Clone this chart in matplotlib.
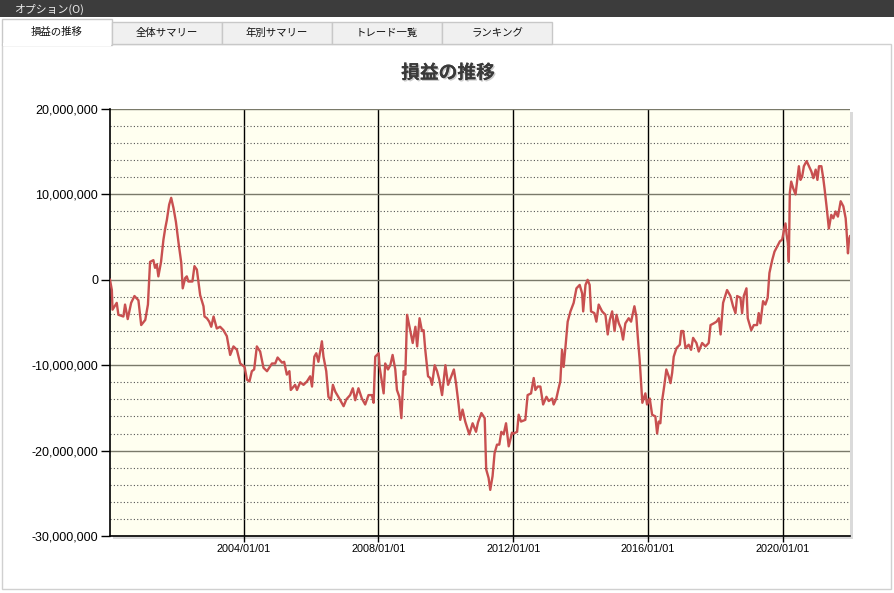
import matplotlib
matplotlib.use("Agg")
import matplotlib.pyplot as plt
import matplotlib.dates as mdates
import matplotlib.ticker as mticker
import matplotlib.patheffects as pe
from matplotlib.patches import Rectangle
import numpy as np
import pandas as pd

plt.rcParams['font.family'] = ['Liberation Sans', 'Noto Sans CJK JP', 'DejaVu Sans']
JP = ['Noto Sans CJK JP', 'DejaVu Sans']

W, H = 894, 593

# 損益の推移 (日付, 損益[百万円])
dates = [
    "2000-01-14", "2000-02-03", "2000-02-10", "2000-03-27", "2000-04-14", "2000-06-07",
    "2000-06-25", "2000-07-24", "2000-08-30", "2000-10-05", "2000-11-17", "2000-12-17",
    "2001-01-30", "2001-02-28", "2001-03-23", "2001-04-28", "2001-05-16", "2001-06-04",
    "2001-06-21", "2001-07-20", "2001-08-15", "2001-09-03", "2001-09-21", "2001-10-16",
    "2001-11-07", "2001-12-02", "2001-12-28", "2002-01-26", "2002-02-24", "2002-03-12",
    "2002-04-07", "2002-04-25", "2002-05-12", "2002-06-25", "2002-07-17", "2002-08-12",
    "2002-09-17", "2002-10-23", "2002-11-03", "2002-11-29", "2002-12-24", "2003-01-15",
    "2003-02-09", "2003-03-16", "2003-04-21", "2003-05-27", "2003-07-03", "2003-08-08",
    "2003-09-13", "2003-10-20", "2003-11-25", "2004-01-11", "2004-02-06", "2004-03-04",
    "2004-03-30", "2004-04-24", "2004-05-23", "2004-06-28", "2004-08-03", "2004-09-10",
    "2004-11-03", "2004-12-08", "2005-01-03", "2005-02-20", "2005-03-15", "2005-04-13",
    "2005-05-11", "2005-05-26", "2005-07-12", "2005-08-01", "2005-09-05", "2005-10-11",
    "2005-11-17", "2005-12-22", "2006-01-11", "2006-02-05", "2006-02-26", "2006-03-21",
    "2006-04-28", "2006-05-15", "2006-06-14", "2006-07-08", "2006-08-04", "2006-08-25",
    "2006-09-20", "2006-11-13", "2006-12-19", "2007-01-18", "2007-02-28", "2007-03-29",
    "2007-04-24", "2007-05-29", "2007-07-05", "2007-08-10", "2007-09-15", "2007-10-22",
    "2007-11-09", "2007-11-27", "2008-01-03", "2008-01-13", "2008-02-26", "2008-03-14",
    "2008-04-13", "2008-05-08", "2008-06-02", "2008-07-01", "2008-07-19", "2008-08-14",
    "2008-09-05", "2008-09-30", "2008-10-18", "2008-11-06", "2008-12-11", "2009-01-06",
    "2009-02-04", "2009-02-23", "2009-03-21", "2009-04-16", "2009-05-04", "2009-05-22",
    "2009-06-21", "2009-07-15", "2009-08-03", "2009-09-01", "2009-09-27", "2009-10-21",
    "2009-11-20", "2009-12-26", "2010-01-24", "2010-02-28", "2010-03-28", "2010-04-20",
    "2010-05-18", "2010-06-05", "2010-06-30", "2010-07-29", "2010-09-11", "2010-10-17",
    "2010-11-23", "2010-12-14", "2011-01-20", "2011-02-25", "2011-03-13", "2011-04-08",
    "2011-04-26", "2011-05-21", "2011-06-12", "2011-07-08", "2011-08-02", "2011-08-24",
    "2011-09-18", "2011-10-14", "2011-11-12", "2011-12-18", "2012-01-05", "2012-02-11",
    "2012-02-28", "2012-03-24", "2012-05-10", "2012-06-04", "2012-07-11", "2012-08-09",
    "2012-08-27", "2012-09-21", "2012-10-20", "2012-11-19", "2012-12-25", "2013-01-19",
    "2013-02-25", "2013-03-13", "2013-04-11", "2013-05-06", "2013-05-24", "2013-06-12",
    "2013-06-29", "2013-07-18", "2013-08-12", "2013-09-11", "2013-10-16", "2013-11-15",
    "2013-12-20", "2014-01-16", "2014-01-27", "2014-02-21", "2014-03-16", "2014-04-07",
    "2014-04-22", "2014-05-28", "2014-06-19", "2014-07-14", "2014-08-20", "2014-09-25",
    "2014-10-20", "2014-11-11", "2014-12-07", "2015-01-02", "2015-01-23", "2015-02-17",
    "2015-03-13", "2015-04-04", "2015-04-29", "2015-06-04", "2015-06-30", "2015-08-05",
    "2015-08-26", "2015-09-10", "2015-10-01", "2015-10-16", "2015-10-30", "2015-12-02",
    "2015-12-20", "2016-01-18", "2016-02-13", "2016-03-19", "2016-04-07", "2016-04-24",
    "2016-05-12", "2016-06-01", "2016-06-25", "2016-07-16", "2016-08-11", "2016-08-30",
    "2016-09-17", "2016-10-04", "2016-11-03", "2016-12-09", "2016-12-24", "2017-01-15",
    "2017-02-09", "2017-03-15", "2017-04-10", "2017-05-02", "2017-06-07", "2017-07-02",
    "2017-08-08", "2017-09-13", "2017-10-18", "2017-11-07", "2017-12-12", "2018-01-11",
    "2018-02-05", "2018-02-24", "2018-03-23", "2018-05-05", "2018-06-10", "2018-07-09",
    "2018-08-04", "2018-08-22", "2018-09-27", "2018-10-15", "2018-11-02", "2018-12-01",
    "2018-12-15", "2019-01-22", "2019-02-19", "2019-03-26", "2019-04-13", "2019-05-01",
    "2019-05-30", "2019-06-24", "2019-07-19", "2019-08-07", "2019-09-06", "2019-10-01",
    "2019-10-30", "2019-11-28", "2019-12-23", "2020-01-10", "2020-01-28", "2020-02-09",
    "2020-02-23", "2020-03-04", "2020-03-15", "2020-03-30", "2020-04-21", "2020-05-16",
    "2020-06-03", "2020-06-21", "2020-07-09", "2020-07-27", "2020-08-14", "2020-09-13",
    "2020-10-08", "2020-11-03", "2020-11-25", "2020-12-20", "2021-01-08", "2021-01-25",
    "2021-02-20", "2021-03-12", "2021-03-26", "2021-04-17", "2021-05-12", "2021-06-07",
    "2021-06-29", "2021-07-24", "2021-08-18", "2021-09-17", "2021-10-16", "2021-11-10",
    "2021-11-21", "2021-12-05", "2021-12-16", "2021-12-27",
]
pnl_million = [
    0.0, -1.2, -3.5, -2.7, -4.1, -4.3,
    -2.9, -4.6, -2.7, -1.9, -2.4, -5.3,
    -4.7, -2.9, 2.1, 2.3, 1.4, 1.8,
    0.4, 2.1, 4.7, 6.0, 7.0, 8.8,
    9.6, 8.4, 6.8, 4.3, 2.0, -1.0,
    0.2, 0.4, -0.2, -0.2, 1.6, 1.2,
    -1.8, -3.1, -4.3, -4.5, -4.9, -5.5,
    -4.3, -5.7, -5.5, -5.9, -6.6, -8.8,
    -7.8, -8.2, -9.8, -10.2, -11.7, -11.9,
    -10.7, -10.5, -7.8, -8.4, -10.3, -10.7,
    -9.8, -9.8, -9.1, -9.7, -9.6, -11.1,
    -10.7, -12.9, -12.3, -12.9, -12.0, -12.3,
    -11.9, -11.3, -12.5, -9.0, -8.6, -9.6,
    -7.2, -9.0, -10.7, -13.7, -14.1, -12.3,
    -13.1, -14.1, -14.8, -14.0, -13.5, -12.7,
    -14.1, -12.7, -13.9, -14.6, -13.5, -13.5,
    -14.4, -9.0, -8.6, -10.2, -13.3, -9.8,
    -10.5, -10.0, -8.8, -10.5, -12.9, -13.7,
    -16.2, -10.7, -11.1, -4.1, -6.0, -7.4,
    -5.5, -7.8, -4.5, -6.0, -5.9, -8.2,
    -11.3, -11.5, -12.3, -10.0, -10.7, -11.7,
    -13.5, -10.0, -12.3, -11.3, -10.5, -12.1,
    -14.6, -16.4, -15.2, -16.6, -18.1, -16.8,
    -17.8, -16.7, -15.6, -16.2, -22.2, -23.2,
    -24.6, -23.0, -20.3, -19.3, -19.3, -17.8,
    -18.1, -16.8, -19.5, -17.9, -18.0, -17.8,
    -15.8, -16.6, -16.4, -13.5, -13.3, -11.5,
    -12.9, -12.5, -12.5, -14.6, -13.7, -14.2,
    -13.9, -14.6, -13.9, -12.7, -11.9, -8.2,
    -10.2, -8.0, -4.9, -3.7, -2.7, -1.0,
    -0.6, -1.6, -3.7, -0.6, 0.0, -0.6,
    -3.7, -3.9, -4.9, -2.9, -3.7, -4.1,
    -6.4, -4.7, -3.7, -6.0, -4.1, -5.1,
    -5.7, -7.0, -5.1, -4.5, -4.9, -3.1,
    -4.3, -6.6, -9.4, -11.9, -14.4, -13.3,
    -14.6, -13.9, -15.8, -16.0, -18.0, -16.6,
    -16.8, -14.1, -12.3, -10.5, -11.3, -12.1,
    -10.9, -9.0, -8.0, -7.6, -6.0, -6.0,
    -8.0, -7.6, -8.2, -6.8, -7.4, -8.4,
    -7.4, -7.8, -7.4, -5.3, -5.1, -4.9,
    -4.5, -6.4, -2.7, -1.2, -1.9, -3.1,
    -3.9, -1.9, -2.1, -3.9, -1.9, -1.0,
    -4.5, -5.9, -5.3, -5.3, -3.9, -5.1,
    -2.5, -2.9, -2.1, 0.8, 2.3, 3.3,
    3.9, 4.5, 4.7, 5.7, 6.6, 5.3,
    4.3, 2.1, 10.2, 11.5, 10.7, 10.0,
    11.7, 13.3, 11.7, 12.1, 13.3, 13.9,
    13.3, 12.7, 11.9, 12.9, 11.7, 13.3,
    13.3, 11.9, 10.7, 8.6, 6.0, 7.6,
    7.2, 8.0, 7.4, 9.2, 8.6, 7.2,
    5.5, 3.1, 4.7, 5.1,
]

title = "損益の推移"
tabs = ["損益の推移", "全体サマリー", "年別サマリー", "トレード一覧", "ランキング"]
menu = "オプション(O)"

df = pd.DataFrame({"date": pd.to_datetime(dates), "pnl": np.array(pnl_million) * 1e6})

fig = plt.figure(figsize=(W / 100, H / 100), dpi=100)
fig.patch.set_facecolor("white")


def box(x0, y0, x1, y1, **kw):
    # pixel box (top-left origin) -> figure rectangle
    r = Rectangle((x0 / W, 1 - y1 / H), (x1 - x0) / W, (y1 - y0) / H,
                  transform=fig.transFigure, **kw)
    fig.patches.append(r)
    return r


# window chrome
box(0, 0, W, 17, facecolor="#3c3c3c", edgecolor="none", zorder=-3)
fig.text(14 / W, 1 - 9 / H, menu, family=JP, fontsize=7.8, color="#eeeeee", va="center")
box(2, 44, 891, 589, facecolor="white", edgecolor="#d0d0d0", lw=1, zorder=-3)
for i, t in enumerate(tabs):
    if i == 0:
        box(2, 19, 112, 45, facecolor="white", edgecolor="#c8c8c8", lw=1, zorder=-2)
        box(3, 43, 111, 46, facecolor="white", edgecolor="none", zorder=-1.5)
        cx, cy = 57, 32
    else:
        x0 = 112 + (i - 1) * 110
        box(x0, 22, x0 + 110, 44, facecolor="#f0f0f0", edgecolor="#c8c8c8", lw=1, zorder=-2)
        cx, cy = x0 + 55, 33
    fig.text(cx / W, 1 - cy / H, t, family=JP, fontsize=7.5, color="#111111",
             ha="center", va="center")

fig.text(448 / W, 1 - 73 / H, title, family=JP, fontsize=13.5, fontweight="bold",
         color="#3a3a3a", ha="center", va="center",
         path_effects=[pe.withSimplePatchShadow(offset=(1, -1), shadow_rgbFace="#999999", alpha=0.5),
                       pe.Normal()])

# plot area shadow
box(113, 112, 853, 539, facecolor="#dadada", edgecolor="none", zorder=-1)

ax = fig.add_axes([110 / W, 1 - 536 / H, 740 / W, 427 / H])
ax.set_facecolor("#fffff0")
ax.plot(df["date"], df["pnl"], color="#c85050", lw=1.7, zorder=3)

ax.set_xlim(df["date"].iloc[0], df["date"].iloc[-1])
ax.set_ylim(-30e6, 20e6)
ax.xaxis.set_major_locator(mdates.YearLocator(4))
ax.xaxis.set_major_formatter(mdates.DateFormatter("%Y/%m/%d"))
ax.yaxis.set_major_locator(mticker.MultipleLocator(10e6))
ax.yaxis.set_minor_locator(mticker.MultipleLocator(2e6))
ax.yaxis.set_major_formatter(mticker.FuncFormatter(lambda v, p: f"{v:,.0f}"))

ax.grid(which="major", axis="y", color="#7a7a6a", lw=1)
ax.grid(which="minor", axis="y", color="#555555", lw=0.8, linestyle=(0, (1, 2)))
ax.grid(which="major", axis="x", color="black", lw=1)
ax.set_axisbelow(True)

ax.tick_params(axis="y", which="major", direction="out", length=6.5, width=1,
               labelsize=9, pad=2, colors="black")
ax.tick_params(axis="y", which="minor", length=0)
ax.tick_params(axis="x", direction="out", length=4, width=1, labelsize=7.8, pad=2)

for s in ["top", "right"]:
    ax.spines[s].set_visible(False)
for s in ["left", "bottom"]:
    ax.spines[s].set_color("black")
    ax.spines[s].set_linewidth(1.2)

fig.savefig("out.png", dpi=100)
